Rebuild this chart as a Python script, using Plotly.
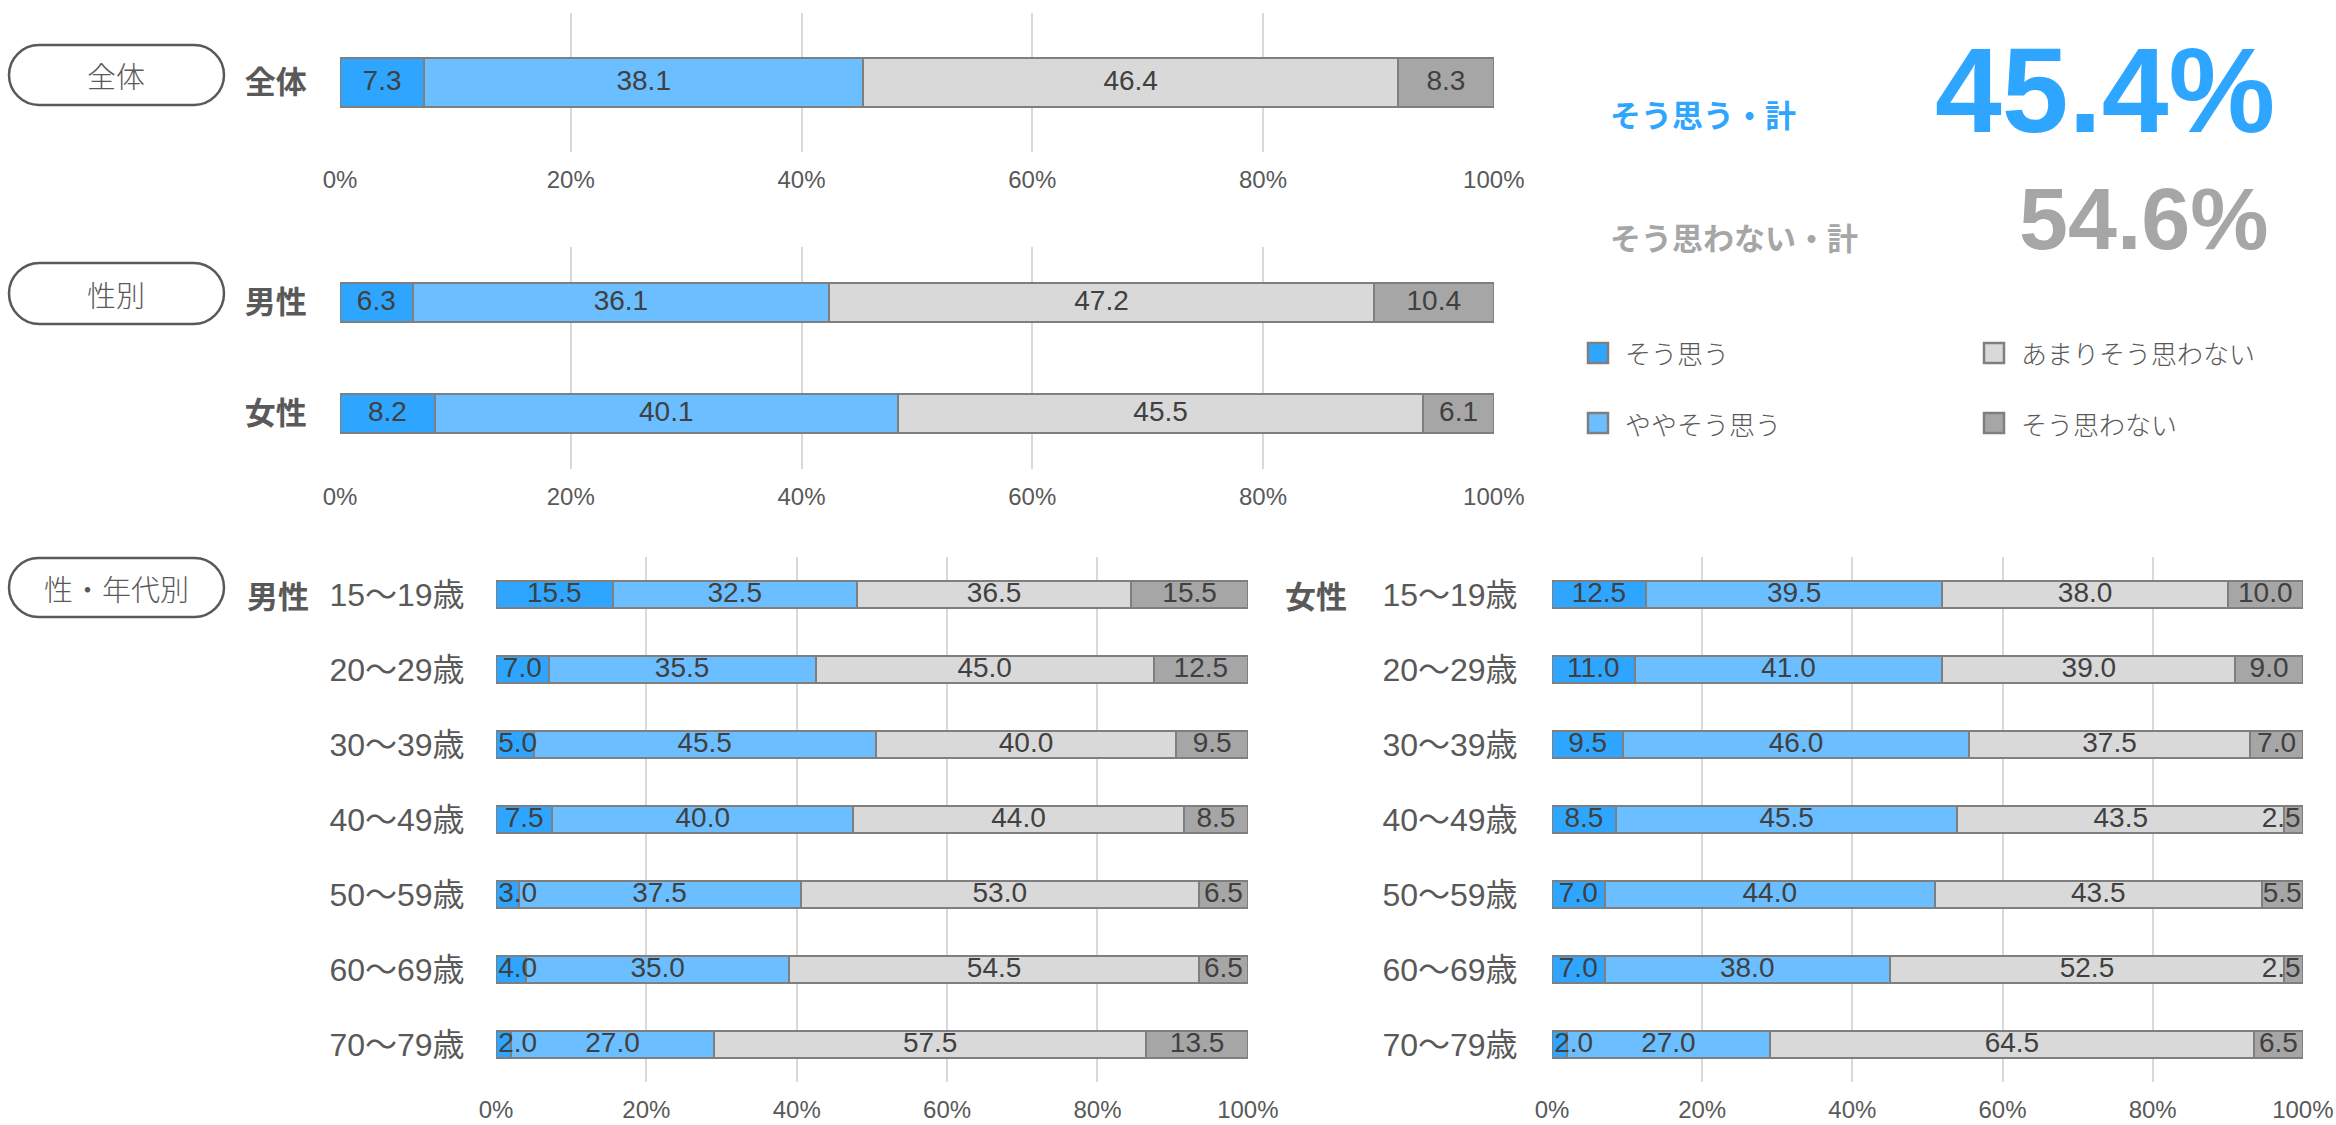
import plotly.graph_objects as go

W, H = 2336, 1125

# ---------------- data ----------------
series_names = ["そう思う", "ややそう思う", "あまりそう思わない", "そう思わない"]
series_colors = ["#2EA6FF", "#6BBEFF", "#D9D9D9", "#A6A6A6"]

total_cats = ["全体"]
total_agree = [7.3]
total_some_agree = [38.1]
total_not_much = [46.4]
total_disagree = [8.3]

gender_cats = ["男性", "女性"]
gender_agree = [6.3, 8.2]
gender_some_agree = [36.1, 40.1]
gender_not_much = [47.2, 45.5]
gender_disagree = [10.4, 6.1]

age_cats = ["15〜19歳", "20〜29歳", "30〜39歳", "40〜49歳", "50〜59歳", "60〜69歳", "70〜79歳"]
male_agree = [15.5, 7.0, 5.0, 7.5, 3.0, 4.0, 2.0]
male_some_agree = [32.5, 35.5, 45.5, 40.0, 37.5, 35.0, 27.0]
male_not_much = [36.5, 45.0, 40.0, 44.0, 53.0, 54.5, 57.5]
male_disagree = [15.5, 12.5, 9.5, 8.5, 6.5, 6.5, 13.5]

female_agree = [12.5, 11.0, 9.5, 8.5, 7.0, 7.0, 2.0]
female_some_agree = [39.5, 41.0, 46.0, 45.5, 44.0, 38.0, 27.0]
female_not_much = [38.0, 39.0, 37.5, 43.5, 43.5, 52.5, 64.5]
female_disagree = [10.0, 9.0, 7.0, 2.5, 5.5, 2.5, 6.5]

xtick_vals = [0, 20, 40, 60, 80, 100]
xtick_text = ["0%", "20%", "40%", "60%", "80%", "100%"]

summary_labels = ["そう思う・計", "そう思わない・計"]
summary_values = [45.4, 54.6]
section_labels = ["全体", "性別", "性・年代別"]
age_group_labels = ["男性", "女性"]

# ---------------- styling ----------------
SANS = "Liberation Sans, Arial, Noto Sans CJK JP"
JP = "Noto Sans CJK JP, Noto Sans CJK SC, sans-serif"
TXT = "#595959"
LBL = "#404040"
GRID = "#D9D9D9"
OUTLINE = "#7F7F7F"
LABEL_SIZE = 28
EDGE_CLAMP = 2.6   # half label width in % of axis; labels are kept inside the plot area


def px(x):
    return x / W


def py(y):
    return 1 - y / H


panels = [
    ("x", "y", total_cats, [total_agree, total_some_agree, total_not_much, total_disagree],
     (340, 1494), (13, 152), 0.35),
    ("x2", "y2", gender_cats, [gender_agree, gender_some_agree, gender_not_much, gender_disagree],
     (340, 1494), (247, 469), 0.36),
    ("x3", "y3", age_cats, [male_agree, male_some_agree, male_not_much, male_disagree],
     (496, 1248), (557, 1082), 0.36),
    ("x4", "y4", age_cats, [female_agree, female_some_agree, female_not_much, female_disagree],
     (1552, 2303), (557, 1082), 0.36),
]

fig = go.Figure()
layout_axes = {}

for i, (xa, ya, cats, vals, xpix, ypix, bw) in enumerate(panels):
    # bars
    for name, col, v in zip(series_names, series_colors, vals):
        fig.add_trace(go.Bar(
            x=v, y=cats, orientation="h", name=name,
            xaxis=xa, yaxis=ya, width=bw,
            marker=dict(color=col, line=dict(color=OUTLINE, width=2)),
            showlegend=False, hoverinfo="x+y+name",
        ))
    # value labels (drawn above all bars, centred in their segment)
    totals = [sum(col_vals) for col_vals in zip(*vals)]
    starts = [0.0] * len(cats)
    for name, v in zip(series_names, vals):
        xs, pos = [], []
        for j, val in enumerate(v):
            width = val / totals[j] * 100
            mid = starts[j] + width / 2
            if mid < EDGE_CLAMP:
                xs.append(0.3)
                pos.append("middle right")
            elif mid > 100 - EDGE_CLAMP:
                xs.append(99.7)
                pos.append("middle left")
            else:
                xs.append(mid)
                pos.append("middle center")
            starts[j] += width
        fig.add_trace(go.Scatter(
            x=xs, y=cats, mode="text", text=[f"{t:.1f}" for t in v],
            textposition=pos, xaxis=xa, yaxis=ya, cliponaxis=False,
            textfont=dict(family=SANS, size=LABEL_SIZE, color=LBL),
            showlegend=False, hoverinfo="skip",
        ))

    xkey = "xaxis" if xa == "x" else "xaxis" + xa[1:]
    ykey = "yaxis" if ya == "y" else "yaxis" + ya[1:]
    n = len(cats)
    layout_axes[xkey] = dict(
        domain=[px(xpix[0]), px(xpix[1])], anchor=ya, range=[0, 100.02],
        tickvals=xtick_vals, ticktext=xtick_text, automargin=False,
        showgrid=True, gridcolor=GRID, gridwidth=1.5, zeroline=False, showline=False,
        ticks="outside", ticklen=6, tickcolor="rgba(0,0,0,0)",
        tickfont=dict(family=SANS, size=24, color=TXT), fixedrange=True,
    )
    if i < 2:
        yfont = dict(family=JP, size=31, color=TXT, weight="bold")
        ylen = 26
    else:
        yfont = dict(family=SANS, size=32, color=TXT)
        ylen = 24 if i == 2 else 27
    layout_axes[ykey] = dict(
        domain=[py(ypix[1]), py(ypix[0])], anchor=xa, type="category",
        categoryorder="array", categoryarray=cats, automargin=False,
        range=[n - 0.5, -0.5], showgrid=False, zeroline=False, showline=False,
        ticks="outside", ticklen=ylen, tickcolor="rgba(0,0,0,0)",
        tickfont=yfont, fixedrange=True,
    )

fig.update_layout(
    width=W, height=H, margin=dict(l=0, r=0, t=0, b=0, autoexpand=False),
    paper_bgcolor="white", plot_bgcolor="white",
    barmode="stack", barnorm="percent", showlegend=False,
    font=dict(family=JP, color=TXT),
    **layout_axes,
)

# ---------------- section pills ----------------
def stadium(x0, y0, x1, y1):
    r = (y1 - y0) / 2
    k = 0.5523 * r
    pts = [
        f"M{px(x0 + r)},{py(y0)}",
        f"L{px(x1 - r)},{py(y0)}",
        f"C{px(x1 - r + k)},{py(y0)} {px(x1)},{py(y0 + r - k)} {px(x1)},{py(y0 + r)}",
        f"C{px(x1)},{py(y0 + r + k)} {px(x1 - r + k)},{py(y1)} {px(x1 - r)},{py(y1)}",
        f"L{px(x0 + r)},{py(y1)}",
        f"C{px(x0 + r - k)},{py(y1)} {px(x0)},{py(y0 + r + k)} {px(x0)},{py(y0 + r)}",
        f"C{px(x0)},{py(y0 + r - k)} {px(x0 + r - k)},{py(y0)} {px(x0 + r)},{py(y0)}",
        "Z",
    ]
    return " ".join(pts)


pill_y = [(45, 105), (263, 324), (558, 617)]
for lab, (y0, y1) in zip(section_labels, pill_y):
    fig.add_shape(type="path", path=stadium(9, y0, 224, y1), xref="paper", yref="paper",
                  line=dict(color=TXT, width=2.5), fillcolor="white", layer="above")
    fig.add_annotation(x=px(116), y=py((y0 + y1) / 2), xref="paper", yref="paper",
                       text=lab, showarrow=False, xanchor="center", yanchor="middle",
                       font=dict(family=JP, size=29, color=TXT, weight=300))

# bold group labels for age panels
for lab, xr in zip(age_group_labels, [311, 1349]):
    fig.add_annotation(x=px(xr), y=py(594), xref="paper", yref="paper", text=lab,
                       showarrow=False, xanchor="right", yanchor="middle",
                       font=dict(family=JP, size=31, color=TXT, weight="bold"))

# ---------------- summary figures ----------------
sum_colors = [series_colors[0], series_colors[3]]
sum_label_y = [114, 236]
sum_value_y = [90, 218]
sum_value_size = [120, 88]
sum_value_right = [2277, 2271]
for lab, val, c, ly, vy, vs, vr in zip(summary_labels, summary_values, sum_colors,
                                        sum_label_y, sum_value_y, sum_value_size, sum_value_right):
    fig.add_annotation(x=px(1608), y=py(ly), xref="paper", yref="paper", text=lab,
                       showarrow=False, xanchor="left", yanchor="middle",
                       font=dict(family=JP, size=31, color=c, weight="bold"))
    fig.add_annotation(x=px(vr), y=py(vy), xref="paper", yref="paper", text=f"{val:.1f}%",
                       showarrow=False, xanchor="right", yanchor="middle",
                       font=dict(family=SANS, size=vs, color=c, weight="bold"))

# ---------------- legend ----------------
leg_pos = [(1588, 353), (1588, 423), (1984, 353), (1984, 423)]
for name, col, (lx, ly) in zip(series_names, series_colors, leg_pos):
    fig.add_shape(type="rect", xref="paper", yref="paper",
                  x0=px(lx), x1=px(lx + 20), y0=py(ly - 10), y1=py(ly + 10),
                  fillcolor=col, line=dict(color=OUTLINE, width=2.5))
    fig.add_annotation(x=px(lx + 35), y=py(ly), xref="paper", yref="paper", text=name,
                       showarrow=False, xanchor="left", yanchor="middle",
                       font=dict(family=JP, size=26, color=TXT, weight=300))

fig.write_html("out.html", config={"displayModeBar": False},
               post_script="document.body.style.margin='0';document.body.style.overflow='hidden';")
